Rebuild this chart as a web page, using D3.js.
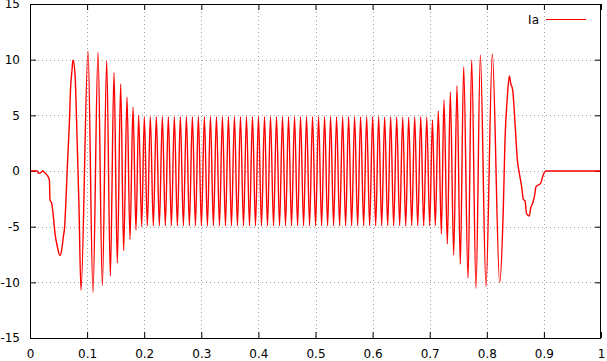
<!DOCTYPE html>
<html>
<head>
<meta charset="utf-8">
<script src="https://cdn.jsdelivr.net/npm/d3@7"></script>
<style>
  html, body { margin: 0; padding: 0; background: #fff; }
  svg { display: block; }
  text { font-family: "DejaVu Sans", sans-serif; font-size: 12px; fill: #000; }
</style>
</head>
<body>
<svg id="chart" width="607" height="361"></svg>
<script>
// ---- data ----
const seriesName = "Ia";
const xTicks = [0, 0.1, 0.2, 0.3, 0.4, 0.5, 0.6, 0.7, 0.8, 0.9, 1];
const xTickLabels = ["0", "0.1", "0.2", "0.3", "0.4", "0.5", "0.6", "0.7", "0.8", "0.9", "1"];
const yTicks = [-15, -10, -5, 0, 5, 10, 15];
const yTickLabels = ["-15", "-10", "-5", "0", "5", "10", "15"];

// start-up transient
const timeStart = [0, 0.0129, 0.0146, 0.0187, 0.0222, 0.0250, 0.0298, 0.0340, 0.0350, 0.0380,
  0.0409, 0.0438, 0.0479, 0.0525, 0.0560, 0.0584, 0.0607, 0.0630, 0.0654, 0.0689, 0.0712,
  0.0736, 0.0752, 0.0788, 0.0817, 0.0858, 0.0893, 0.1016, 0.1103, 0.1191, 0.1267, 0.1343,
  0.1407, 0.1471, 0.1529, 0.1588, 0.1640, 0.1699, 0.1751, 0.1804, 0.1856, 0.1903, 0.1956];
const iaStart = [0, 0, -0.21, -0.15, 0, -0.12, -0.36, -0.81, -2.6, -2.9,
  -4.1, -5.6, -6.8, -7.6, -6.9, -5.9, -5.0, -2.6, 0.39, 4.28, 7.57,
  9.07, 9.97, 8.77, 4.28, -3.2, -10.7, 10.78, -10.9, 10.66, -10.3, 9.88,
  -9.43, 8.83, -8.29, 7.79, -7.16, 6.62, -6.14, 5.72, -5.3, 5.0, -5.0];

// steady running section (peaks and troughs)
const timeRun = [0.2002, 0.2055, 0.2107, 0.2160, 0.2212, 0.2265, 0.2318, 0.2370, 0.2423, 0.2476,
  0.2528, 0.2581, 0.2633, 0.2686, 0.2739, 0.2791, 0.2844, 0.2897, 0.2949, 0.3002,
  0.3054, 0.3107, 0.3160, 0.3212, 0.3265, 0.3318, 0.3370, 0.3423, 0.3475, 0.3528,
  0.3580, 0.3633, 0.3686, 0.3739, 0.3791, 0.3844, 0.3896, 0.3949, 0.4001, 0.4054,
  0.4107, 0.4159, 0.4212, 0.4265, 0.4317, 0.4370, 0.4422, 0.4475, 0.4528, 0.4580,
  0.4633, 0.4686, 0.4738, 0.4791, 0.4843, 0.4896, 0.4948, 0.5001, 0.5054, 0.5107,
  0.5159, 0.5212, 0.5264, 0.5317, 0.5369, 0.5422, 0.5475, 0.5527, 0.5580, 0.5633,
  0.5685, 0.5738, 0.5790, 0.5843, 0.5896, 0.5948, 0.6001, 0.6054, 0.6106, 0.6159,
  0.6211, 0.6264, 0.6316, 0.6369, 0.6422, 0.6474, 0.6527, 0.6580, 0.6632, 0.6685,
  0.6737, 0.6790, 0.6843, 0.6895, 0.6948, 0.7000];
const iaRun = [4.86, -4.92, 4.88, -4.93, 4.87, -4.92, 4.88, -4.93, 4.87, -4.92,
  4.88, -4.93, 4.87, -4.92, 4.88, -4.93, 4.87, -4.92, 4.88, -4.93,
  4.87, -4.92, 4.88, -4.93, 4.87, -4.92, 4.88, -4.93, 4.87, -4.92,
  4.88, -4.93, 4.87, -4.92, 4.88, -4.93, 4.87, -4.92, 4.88, -4.93,
  4.87, -4.92, 4.88, -4.93, 4.87, -4.92, 4.88, -4.93, 4.87, -4.92,
  4.88, -4.93, 4.87, -4.92, 4.88, -4.93, 4.87, -4.92, 4.88, -4.93,
  4.87, -4.92, 4.88, -4.93, 4.87, -4.92, 4.88, -4.93, 4.87, -4.92,
  4.88, -4.93, 4.87, -4.92, 4.88, -4.93, 4.87, -4.92, 4.88, -4.93,
  4.86, -4.92, 4.85, -4.93, 4.86, -4.92, 4.82, -4.94, 4.82, -4.91,
  4.88, -4.92, 4.88, -4.92, 4.82, -4.92];

// braking transient
const timeStop = [0.7048, 0.7098, 0.7151, 0.7204, 0.7250, 0.7309, 0.7361, 0.7420, 0.7478, 0.7536,
  0.7595, 0.7671, 0.7735, 0.7811, 0.7887, 0.7986, 0.8097, 0.8225, 0.8290, 0.8319,
  0.8360, 0.8395, 0.8418, 0.8453, 0.8476, 0.8505, 0.8535, 0.8570, 0.8610, 0.8640,
  0.8669, 0.8698, 0.8745, 0.8768, 0.8803, 0.8838, 0.8862, 0.8903, 0.8943, 0.8978,
  0.9007, 0.9037, 1.0];
const iaStop = [4.58, -4.9, 5.39, -5.66, 6.38, -6.56, 7.07, -7.55, 7.63, -8.38,
  9.37, -9.64, 9.97, -10.54, 10.42, -10.39, 10.51, -10.0, -3.2, 2.8,
  6.68, 8.53, 7.88, 7.28, 5.8, 3.38, 0.99, -0.21, -1.41, -2.55,
  -2.67, -3.86, -4.04, -3.35, -2.9, -2.16, -1.41, -1.26, -1.11, -0.51,
  -0.15, 0, 0];

// ---- chart ----
const W = 607, H = 361;
const margin = { left: 30, right: 6, top: 4, bottom: 23 };
const svg = d3.select("#chart");
svg.append("rect").attr("width", W).attr("height", H).attr("fill", "#fff");

const x = d3.scaleLinear().domain([0, 1]).range([margin.left, W - margin.right]);
const y = d3.scaleLinear().domain([-15, 15]).range([H - margin.bottom, margin.top]);
const x0 = x.range()[0], x1 = x.range()[1], y0 = y.range()[0], y1 = y.range()[1];

// grid
const grid = svg.append("g").attr("stroke", "#a0a0a0").attr("stroke-width", 1)
  .attr("stroke-dasharray", "1,3").attr("fill", "none");
grid.selectAll("line.gx").data(xTicks.slice(1, -1)).join("line")
  .attr("x1", d => Math.round(x(d)) + 0.5).attr("x2", d => Math.round(x(d)) + 0.5)
  .attr("y1", y1).attr("y2", y0);
grid.selectAll("line.gy").data(yTicks.slice(1, -1)).join("line")
  .attr("y1", d => Math.round(y(d)) + 0.5).attr("y2", d => Math.round(y(d)) + 0.5)
  .attr("x1", x0).attr("x2", x1);

// axes
const fmtX = d => xTickLabels[xTicks.indexOf(d)];
const fmtY = d => yTickLabels[yTicks.indexOf(d)];
const gB = svg.append("g").attr("transform", `translate(0,${y0})`)
  .call(d3.axisBottom(x).tickValues(xTicks).tickFormat(fmtX).tickSizeInner(-6).tickSizeOuter(0).tickPadding(11.5));
const gL = svg.append("g").attr("transform", `translate(${x0},0)`)
  .call(d3.axisLeft(y).tickValues(yTicks).tickFormat(fmtY).tickSizeInner(-6).tickSizeOuter(0).tickPadding(10));
const gT = svg.append("g").attr("transform", `translate(0,${y1})`)
  .call(d3.axisTop(x).tickValues(xTicks).tickFormat("").tickSizeInner(-6).tickSizeOuter(0));
const gR = svg.append("g").attr("transform", `translate(${x1},0)`)
  .call(d3.axisRight(y).tickValues(yTicks).tickFormat("").tickSizeInner(-6).tickSizeOuter(0));
[gB, gL, gT, gR].forEach(g => {
  g.select(".domain").remove();
  g.selectAll("line").attr("stroke", "#000");
  g.selectAll("text").attr("font-family", "DejaVu Sans, sans-serif").attr("font-size", 12).attr("fill", "#000");
});

// data line
const times = timeStart.concat(timeRun, timeStop);
const ia = iaStart.concat(iaRun, iaStop);
const pts = times.map((t, i) => [t, ia[i]]);
const line = d3.line().x(d => x(d[0])).y(d => y(d[1])).curve(d3.curveMonotoneX);
svg.append("path").datum(pts).attr("d", line)
  .attr("fill", "none").attr("stroke", "#ff0000").attr("stroke-width", 1.4);

// border
svg.append("rect").attr("x", x0 + 0.5).attr("y", y1 + 0.5)
  .attr("width", x1 - x0 - 1).attr("height", y0 - y1)
  .attr("fill", "none").attr("stroke", "#000").attr("stroke-width", 1);

// legend
svg.append("text").attr("x", 539).attr("y", 24).attr("text-anchor", "end").text(seriesName);
svg.append("line").attr("x1", 546).attr("x2", 586).attr("y1", 19.5).attr("y2", 19.5)
  .attr("stroke", "#ff0000").attr("stroke-width", 1.2);
</script>
</body>
</html>
